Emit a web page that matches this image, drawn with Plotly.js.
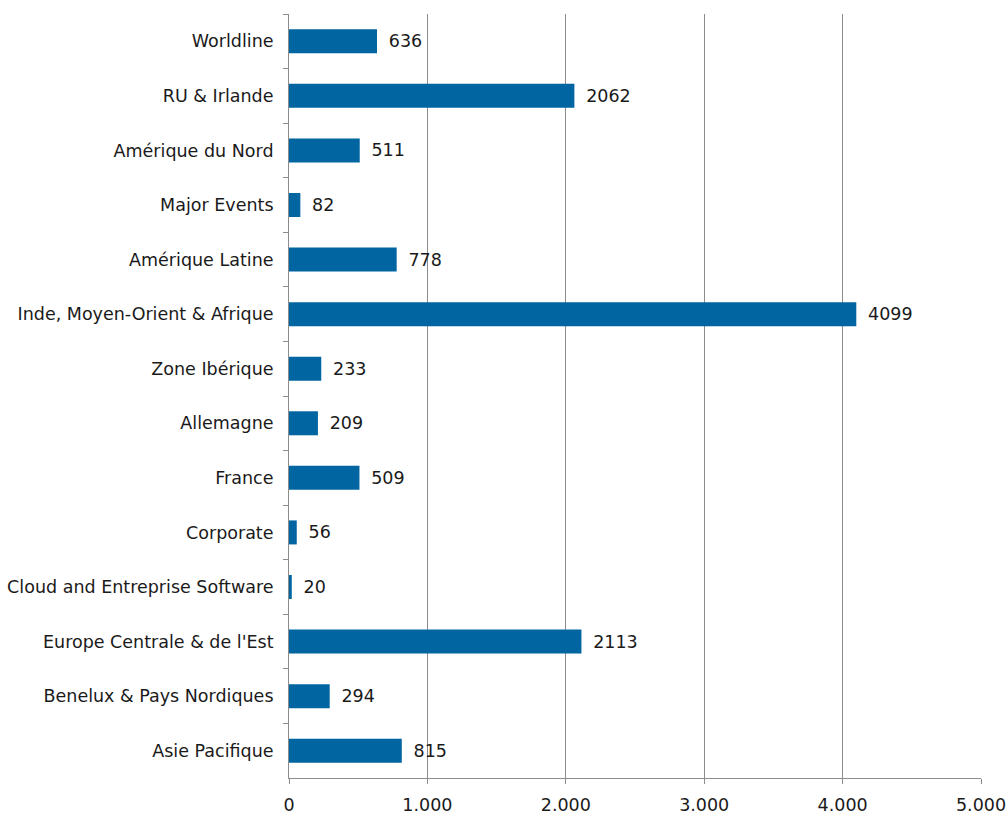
<!DOCTYPE html>
<html>
<head>
<meta charset="utf-8">
<script src="https://cdn.plot.ly/plotly-3.0.1.min.js"></script>
<style>html,body{margin:0;padding:0;background:#fff;}#chart{width:1007px;height:814px;}</style>
</head>
<body>
<div id="chart"></div>
<script>
const categories = ["Worldline","RU & Irlande","Amérique du Nord","Major Events","Amérique Latine","Inde, Moyen-Orient & Afrique","Zone Ibérique","Allemagne","France","Corporate","Cloud and Entreprise Software","Europe Centrale & de l'Est","Benelux & Pays Nordiques","Asie Pacifique"];
const values = [636,2062,511,82,778,4099,233,209,509,56,20,2113,294,815];
const xTickVals = [0,1000,2000,3000,4000,5000];
const xTickText = ["0","1.000","2.000","3.000","4.000","5.000"];

const font = {family:"DejaVu Sans, Verdana, sans-serif", size:17.5, color:"#1a1a1a"};
Plotly.newPlot("chart", [{
  type:"bar", orientation:"h",
  y: categories, x: values,
  marker:{color:"#0065a1", line:{width:0}},
  width:0.44,
  text: values.map(v => "\u2002" + v), textposition:"outside", cliponaxis:false,
  textfont: font,
  hoverinfo:"none"
}], {
  width:1007, height:814,
  margin:{l:289, r:26, t:14, b:36},
  paper_bgcolor:"#fff", plot_bgcolor:"#fff",
  font: font,
  showlegend:false,
  xaxis:{range:[0,5000], tickvals:xTickVals, ticktext:xTickText, showgrid:true, gridcolor:"#8c8c8c", gridwidth:1,
    showline:true, linecolor:"#8c8c8c", ticks:"outside", ticklen:5, tickcolor:"#8c8c8c", zeroline:false, fixedrange:true, tickfont:font, ticklabelstandoff:6},
  yaxis:{autorange:"reversed", type:"category", showline:true, linecolor:"#8c8c8c", ticks:"outside", ticklen:5, tickcolor:"#8c8c8c",
    tickson:"boundaries", showgrid:false, ticklabelstandoff:11, tickfont:font, fixedrange:true}
}, {staticPlot:true});
</script>
</body>
</html>
